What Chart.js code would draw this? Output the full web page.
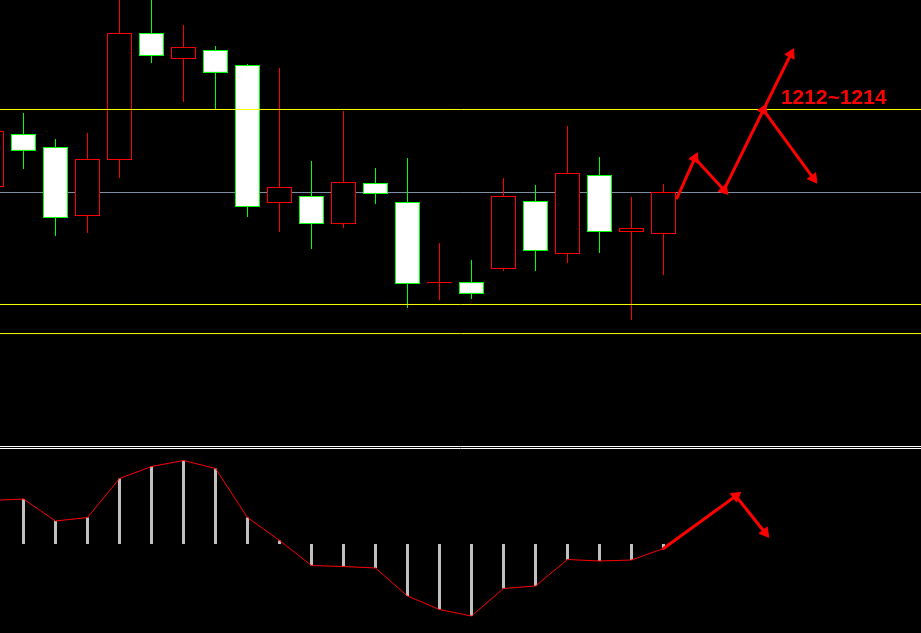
<!DOCTYPE html>
<html>
<head>
<meta charset="utf-8">
<script src="https://cdn.jsdelivr.net/npm/chart.js@4.4.0/dist/chart.umd.min.js"></script>
<style>
    html, body { margin: 0; padding: 0; background: #000; overflow: hidden; }
    canvas { display: block; }
</style>
</head>
<body>
<canvas id="kChart" width="921" height="633"></canvas>
<script>
// Candles, index 0 is the one cut off at the left edge
const opens  = [1207.20, 1210.46, 1209.66, 1205.42, 1208.86, 1216.68, 1215.08, 1215.63, 1214.71, 1206.22, 1206.65,
                1204.92, 1207.45, 1206.28, 1201.29, 1201.35, 1202.15, 1206.34, 1203.08, 1207.94, 1204.43, 1204.31];
const highs  = [1211.40, 1211.75, 1210.15, 1210.52, 1220.50, 1220.20, 1217.17, 1215.88, 1214.77, 1214.52, 1208.80,
                1211.88, 1208.37, 1208.98, 1203.75, 1202.71, 1207.75, 1207.32, 1210.95, 1209.05, 1206.58, 1207.38];
const lows   = [1206.60, 1208.31, 1204.18, 1204.37, 1207.75, 1214.83, 1212.43, 1212.00, 1205.35, 1204.43, 1203.38,
                1204.68, 1206.15, 1199.75, 1200.25, 1200.31, 1202.03, 1202.03, 1202.52, 1203.14, 1199.02, 1201.78];
const closes = [1210.65, 1209.42, 1205.29, 1208.92, 1216.68, 1215.26, 1215.82, 1214.22, 1205.97, 1207.20, 1204.92,
                1207.51, 1206.77, 1201.23, 1201.35, 1200.62, 1206.65, 1203.26, 1208.06, 1204.43, 1204.68, 1206.89];

// Histogram in the lower panel
const histValues = [0.87, 0.90, 0.46, 0.53, 1.31, 1.55, 1.67, 1.51, 0.53, 0.07, -0.43,
                    -0.45, -0.48, -1.04, -1.31, -1.44, -0.89, -0.84, -0.31, -0.34, -0.32, -0.09];

// Horizontal levels
const yellowLevels = [1211.97, 1199.97, 1198.18];
const greyLevel = 1206.86;
const panelSplit = [1.95, 1.91]; // double white line, on the histogram scale

// Hand drawn forecast arrows [x index, value]
const pathTop = [[21.42, 1206.52], [21.98, 1208.97], [22.89, 1207.02], [24.12, 1211.94], [24.98, 1215.38]];
const pathTopBranch = [[24.12, 1211.94], [25.68, 1207.74]];
const pathLow = [[21, -0.09], [23.26, 0.96], [24.17, 0.23]];
const targetText = "1212~1214";
const targetPos = [24.67, 1212.31];

const RED = "#ff0000";
const GREEN = "#00ff00";

const idx = opens.map((_, i) => i);
const isUp = idx.map(i => closes[i] >= opens[i]);

function hLine(v, axis, color, order) {
    return {
        type: "line",
        yAxisID: axis,
        data: [{ x: -2, y: v }, { x: 32, y: v }],
        borderColor: color,
        borderWidth: 1,
        pointRadius: 0,
        order: order
    };
}

// arrowhead follows the direction of the segment
function headAngle(c) {
    const ds = c.dataset;
    const xs = c.chart.scales.x;
    const ys = c.chart.scales[ds.yAxisID];
    const a = ds.data[0], b = ds.data[1];
    const dx = xs.getPixelForValue(b.x) - xs.getPixelForValue(a.x);
    const dy = ys.getPixelForValue(b.y) - ys.getPixelForValue(a.y);
    return Math.atan2(dx, -dy) * 180 / Math.PI;
}

function arrows(path, axis) {
    const sets = [];
    for (let k = 0; k < path.length - 1; k++) {
        sets.push({
            type: "line",
            yAxisID: axis,
            data: [{ x: path[k][0], y: path[k][1] }, { x: path[k + 1][0], y: path[k + 1][1] }],
            borderColor: RED,
            borderWidth: 3,
            borderCapStyle: "round",
            pointRadius: [0, 6],
            pointStyle: "triangle",
            pointBackgroundColor: RED,
            pointBorderColor: RED,
            pointBorderWidth: 1,
            pointRotation: headAngle,
            order: 1
        });
    }
    return sets;
}

const targetLabel = {
    id: "targetLabel",
    afterDatasetsDraw(chart) {
        const { ctx, scales } = chart;
        ctx.save();
        ctx.fillStyle = RED;
        ctx.font = "bold 21px 'Liberation Sans', Arial, sans-serif";
        ctx.textBaseline = "alphabetic";
        ctx.fillText(targetText, scales.x.getPixelForValue(targetPos[0]), scales.y.getPixelForValue(targetPos[1]));
        ctx.restore();
    }
};

const datasets = [
    hLine(greyLevel, "y", "#8090a4", 10),
    {
        type: "bar",
        yAxisID: "y",
        data: idx.map(i => ({ x: i, y: [lows[i], highs[i]] })),
        backgroundColor: idx.map(i => isUp[i] ? RED : GREEN),
        borderWidth: 0,
        barThickness: 1,
        grouped: false,
        inflateAmount: 0,
        order: 9
    },
    {
        type: "bar",
        yAxisID: "y",
        data: idx.map(i => ({ x: i, y: [opens[i], closes[i]] })),
        backgroundColor: idx.map(i => isUp[i] ? "#000000" : "#ffffff"),
        borderColor: idx.map(i => isUp[i] ? RED : GREEN),
        borderWidth: 1,
        borderSkipped: false,
        barThickness: 25,
        grouped: false,
        inflateAmount: 0,
        order: 8
    },
    ...yellowLevels.map(v => hLine(v, "y", "#ffff00", 5)),
    {
        type: "bar",
        yAxisID: "y2",
        data: idx.map(i => ({ x: i, y: histValues[i] })),
        backgroundColor: "#c0c0c0",
        borderWidth: 0,
        barThickness: 3,
        grouped: false,
        inflateAmount: 0,
        order: 4
    },
    {
        type: "line",
        yAxisID: "y2",
        data: idx.map(i => ({ x: i, y: histValues[i] })),
        borderColor: RED,
        borderWidth: 1,
        pointRadius: 0,
        tension: 0,
        order: 3
    },
    ...panelSplit.map(v => hLine(v, "y2", "#ffffff", 2)),
    ...arrows(pathTop, "y"),
    ...arrows(pathTopBranch, "y"),
    ...arrows(pathLow, "y2")
];

new Chart(document.getElementById("kChart"), {
    type: "bar",
    data: { datasets: datasets },
    options: {
        responsive: false,
        animation: false,
        devicePixelRatio: 1,
        events: [],
        layout: { padding: 0, autoPadding: false },
        scales: {
            x: { type: "linear", display: false, offset: false, bounds: "data", min: 0.265625, max: 29.046875 },
            y: { type: "linear", display: false, bounds: "data", beginAtZero: false, min: 1179.7538, max: 1218.7077 },
            y2: { type: "linear", display: false, bounds: "data", beginAtZero: false, min: -1.78, max: 10.88 }
        },
        plugins: {
            legend: { display: false },
            tooltip: { enabled: false }
        }
    },
    plugins: [targetLabel]
});
</script>
</body>
</html>
